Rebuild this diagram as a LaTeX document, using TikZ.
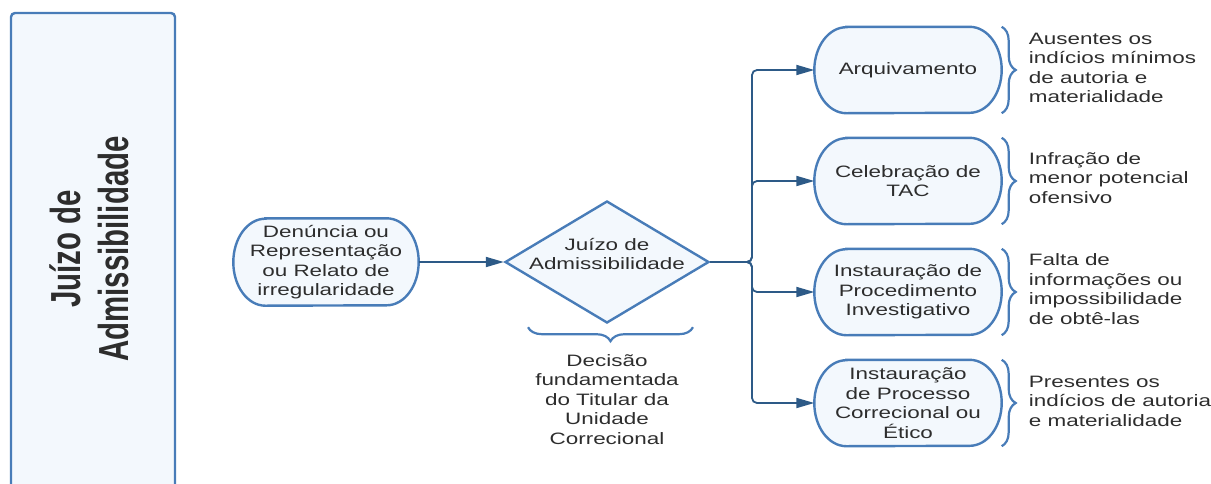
\documentclass[tikz,border=0pt]{standalone}
\usepackage{fontspec}
\setmainfont{Liberation Sans}[FakeStretch=1.36]
\newfontfamily\titlefont{Liberation Sans}[FakeStretch=0.70]
\usetikzlibrary{shapes.geometric,arrows.meta,decorations.pathreplacing,calc,backgrounds}
\definecolor{edgeblue}{RGB}{72,124,184}
\definecolor{paleblue}{RGB}{243,248,253}
\definecolor{linkblue}{RGB}{45,90,135}
\definecolor{inkgray}{RGB}{45,45,45}
\begin{document}
\begin{tikzpicture}[x=1pt,y=-1pt,
  every node/.style={text=inkgray, font=\fontsize{16.5}{19.5}\selectfont},
  stadium/.style={rectangle, minimum width=187pt, minimum height=86pt,
    inner sep=0pt, align=center},
  outline/.style={draw=edgeblue, fill=paleblue, line width=2.4pt},
  decision/.style={diamond, aspect=1.67, draw=edgeblue, fill=paleblue,
    line width=2.4pt, minimum width=204pt, minimum height=122pt,
    inner sep=-4pt, align=center},
  flow/.style={draw=linkblue, line width=1.8pt, rounded corners=5pt,
    -{Triangle[length=18pt,width=10pt]}},
  sidebrace/.style={draw=edgeblue, line width=2.2pt, decorate,
    decoration={brace, amplitude=14pt}},
  reason/.style={anchor=west, align=left, inner sep=0pt}]

\useasboundingbox (0,0) rectangle (1211,483);
\clip (0,0) rectangle (1211,483);

% side panel with the stage title
\draw[outline, rounded corners=4pt] (11,13) rectangle (175,520);
\node[rotate=90, align=center, text=inkgray,
  font=\titlefont\bfseries\fontsize{42}{48}\selectfont]
  (title) at (89,249) {Juízo de\\Admissibilidade};

% input and decision
\node[stadium, minimum width=185pt, minimum height=87pt] (input) at (326,262)
  {Denúncia ou\\Representação\\ou Relato de\\irregularidade};
\node[decision] (judge) at (607,262)
  {\raisebox{6pt}[\height][\depth]{\begin{tabular}{@{}c@{}}Juízo de\\Admissibilidade\end{tabular}}};
\draw[flow] (input.east) -- (judge.west);

\draw[sidebrace] ($(judge.south)+(86,3)$) -- ($(judge.south)+(-79,3)$);
\node[align=center] (basis) at ($(judge.south)+(0,75)$)
  {Decisão\\fundamentada\\do Titular da\\Unidade\\Correcional};

% possible outcomes
\node[stadium] (out1) at (908,70)  {Arquivamento};
\node[stadium] (out2) at (908,181) {Celebração de\\TAC};
\node[stadium] (out3) at (908,292) {Instauração de\\Procedimento\\Investigativo};
\node[stadium] (out4) at (908,403) {Instauração\\de Processo\\Correcional ou\\Ético};

% terminator outlines with half-elliptic ends, behind the labels
\begin{scope}[on background layer]
  \foreach \nm/\ry in {input/43.5,out1/43,out2/43,out3/43,out4/43} {
    \path[outline]
      ($(\nm.north west)+(32,0)$) -- ($(\nm.north east)+(-32,0)$)
      arc[start angle=90, end angle=-90, x radius=32pt, y radius=\ry pt]
      -- ($(\nm.south west)+(32,0)$)
      arc[start angle=270, end angle=90, x radius=32pt, y radius=\ry pt]
      -- cycle;
  }
\end{scope}

\coordinate (split) at (752,262);
\foreach \k in {1,2,3,4} {
  \draw[flow] (judge.east) -- (split) |- (out\k.west);
  \draw[sidebrace] (out\k.north east) -- (out\k.south east);
}

% grounds for each outcome
\node[reason] (why1) at ($(out1.east)+(27,-2)$)
  {Ausentes os\\indícios mínimos\\de autoria e\\materialidade};
\node[reason] (why2) at ($(out2.east)+(27,-3)$)
  {Infração de\\menor potencial\\ofensivo};
\node[reason] (why3) at ($(out3.east)+(27,-3)$)
  {Falta de\\informações ou\\impossibilidade\\de obtê-las};
\node[reason] (why4) at ($(out4.east)+(27,-2)$)
  {Presentes os\\indícios de autoria\\e materialidade};
\end{tikzpicture}
\end{document}
